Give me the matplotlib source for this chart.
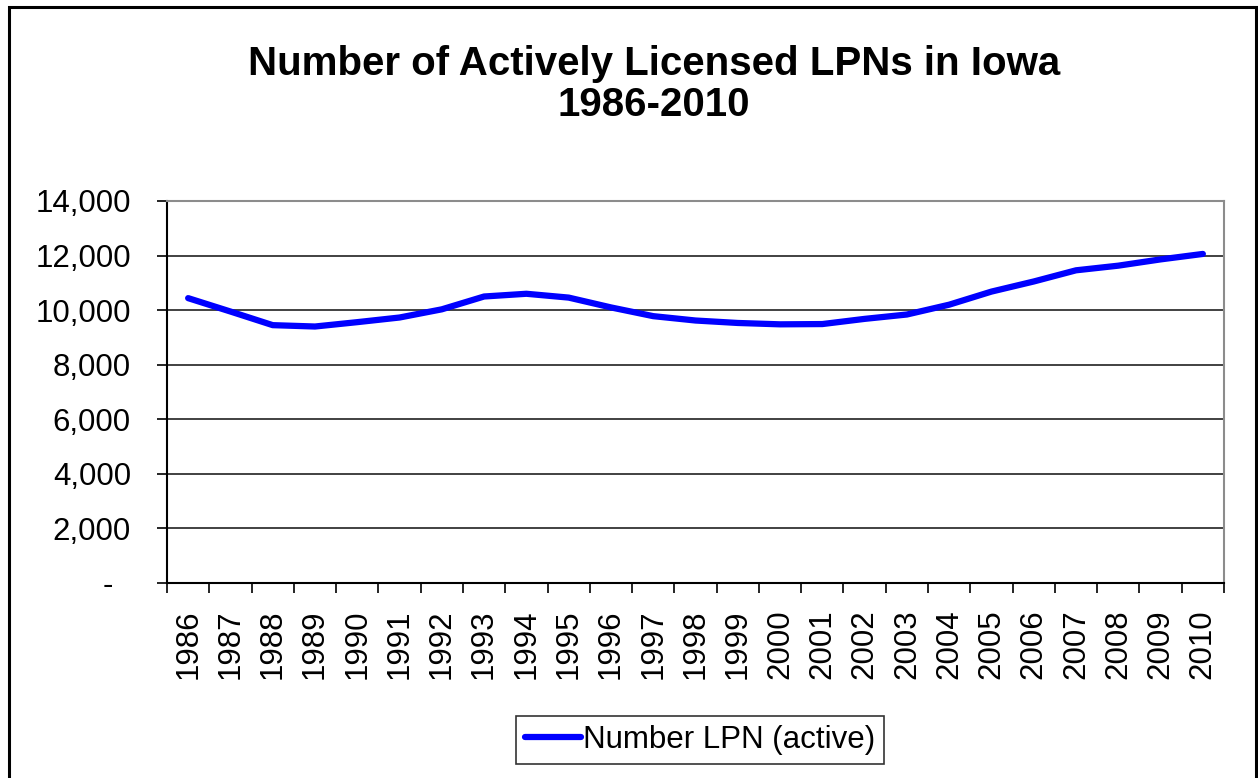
import matplotlib.pyplot as plt
import matplotlib.patches as ptc
from matplotlib.ticker import FixedLocator, FuncFormatter

plt.rcParams['font.family'] = ['Liberation Sans', 'DejaVu Sans']

# --- data ---
years = [str(y) for y in range(1986, 2011)]
lpn_active = [10440, 9950, 9450, 9400, 9560, 9730, 10030, 10500, 10600, 10460,
              10100, 9780, 9620, 9530, 9480, 9490, 9680, 9840, 10200, 10680,
              11050, 11460, 11630, 11860, 12060]
y_ticks = [0, 2000, 4000, 6000, 8000, 10000, 12000, 14000]

W, H = 1258, 778
fig = plt.figure(figsize=(W / 100, H / 100), dpi=100)
fig.patch.set_facecolor('white')

# plot area in pixels: left 167, right 1224, top 201, bottom 583
ax = fig.add_axes([167 / W, 1 - 583 / H, (1224 - 167) / W, (583 - 201) / H])

x = list(range(len(years)))
ax.plot(x, lpn_active, color='#0000FF', lw=4.5, solid_capstyle='round',
        solid_joinstyle='round', label='Number LPN (active)', zorder=3)

ax.set_xlim(-0.5, len(years) - 0.5)
ax.set_ylim(0, 14000)

# x labels at category centres, tick marks at category boundaries
ax.set_xticks(x)
ax.set_xticklabels(years, rotation=90, fontsize=22.5)
ax.xaxis.set_minor_locator(FixedLocator([i - 0.5 for i in range(len(years) + 1)]))
ax.tick_params(axis='x', which='major', length=0, pad=19)
ax.tick_params(axis='x', which='minor', length=7, width=1.2, direction='out',
               color='black')

ax.set_yticks(y_ticks)
ax.yaxis.set_major_formatter(FuncFormatter(
    lambda v, p: '-  ' if v == 0 else f'{int(v):,}'))
ax.tick_params(axis='y', length=7, width=1.2, direction='out', pad=19,
               labelsize=22.5, color='black')

ax.grid(axis='y', color='#333333', lw=1.3)
ax.set_axisbelow(True)
for side in ['left', 'bottom']:
    ax.spines[side].set_color('black')
    ax.spines[side].set_linewidth(1.5)
for side in ['top', 'right']:
    ax.spines[side].set_color('#8c8c8c')
    ax.spines[side].set_linewidth(1.5)

fig.text(654 / W, 1 - 45 / H, 'Number of Actively Licensed LPNs in Iowa\n1986-2010',
         ha='center', va='top', fontsize=29, fontweight='bold',
         linespacing=1.1)

leg = fig.legend(loc='center', bbox_to_anchor=(700 / W, 1 - 740 / H),
                 fontsize=22.5, frameon=True, fancybox=False, handlelength=1.8,
                 handletextpad=0.05, borderpad=0.3, borderaxespad=0)
leg.get_frame().set_edgecolor('black')
leg.get_frame().set_linewidth(1.2)

# outer chart border (bottom runs off the image)
border = ptc.Rectangle((9 / W, -0.05), (1256 - 9) / W, 1.05 - 7 / H,
                       transform=fig.transFigure, fill=False,
                       edgecolor='black', lw=2.2, clip_on=False)
fig.patches.append(border)

fig.savefig('out.png', dpi=100)
